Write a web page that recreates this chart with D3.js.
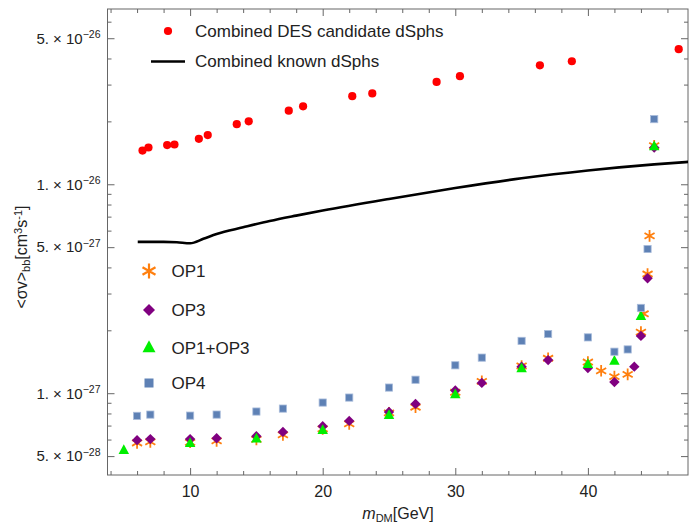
<!DOCTYPE html>
<html>
<head>
<meta charset="utf-8">
<script src="https://cdn.jsdelivr.net/npm/d3@7"></script>
<style>
  html, body { margin: 0; padding: 0; background: #fff; }
  svg { display: block; font-family: "Liberation Sans", Arial, sans-serif; }
</style>
</head>
<body>
<svg id="chart" width="690" height="523"></svg>
<script>
// Dark-matter annihilation cross-section limits vs. mass
const desMass  = [6.41, 6.86, 8.27, 8.82, 10.66, 11.33, 13.52, 14.42, 17.44, 18.52, 22.23, 23.74, 28.59, 30.35, 36.38, 38.79, 46.85];
const desSigma = [1.45e-26, 1.50e-26, 1.54e-26, 1.55e-26, 1.65e-26, 1.72e-26, 1.94e-26, 2.00e-26, 2.25e-26, 2.36e-26, 2.64e-26, 2.72e-26, 3.09e-26, 3.29e-26, 3.71e-26, 3.88e-26, 4.43e-26];

const knownMass  = [6.05, 7, 8, 9, 10, 11, 12, 14, 16, 18, 20, 25, 30, 35, 40, 45, 47.6];
const knownSigma = [5.30e-27, 5.30e-27, 5.30e-27, 5.28e-27, 5.22e-27, 5.48e-27, 5.78e-27, 6.22e-27, 6.67e-27, 7.08e-27, 7.49e-27, 8.51e-27, 9.59e-27, 1.068e-26, 1.164e-26, 1.245e-26, 1.28e-26];

const op1Mass  = [6, 7, 10, 12, 15, 17, 20, 22, 25, 27, 30, 32, 35, 37, 40, 41, 42, 43, 44, 44.2, 44.5, 44.65, 45];
const op1Sigma = [5.78e-28, 5.85e-28, 5.82e-28, 5.91e-28, 6.01e-28, 6.32e-28, 6.75e-28, 7.13e-28, 8.05e-28, 8.57e-28, 1.01e-27, 1.14e-27, 1.35e-27, 1.47e-27, 1.41e-27, 1.28e-27, 1.20e-27, 1.23e-27, 1.96e-27, 2.40e-27, 3.72e-27, 5.66e-27, 1.53e-26];

const op3Mass  = [6, 7, 10, 12, 15, 17, 20, 22, 25, 27, 30, 32, 35, 37, 40, 42, 43.5, 44, 44.5, 45];
const op3Sigma = [5.96e-28, 6.03e-28, 6.03e-28, 6.09e-28, 6.23e-28, 6.53e-28, 6.95e-28, 7.37e-28, 8.14e-28, 8.89e-28, 1.03e-27, 1.12e-27, 1.34e-27, 1.44e-27, 1.32e-27, 1.13e-27, 1.34e-27, 1.88e-27, 3.55e-27, 1.50e-26];

const op13Mass  = [5, 10, 15, 20, 25, 30, 35, 40, 42, 44, 45];
const op13Sigma = [5.31e-28, 5.74e-28, 6.03e-28, 6.63e-28, 7.81e-28, 9.82e-28, 1.31e-27, 1.37e-27, 1.42e-27, 2.33e-27, 1.51e-26];

const op4Mass  = [6, 7, 10, 12, 15, 17, 20, 22, 25, 27, 30, 32, 35, 37, 40, 42, 43, 44, 44.5, 45];
const op4Sigma = [7.79e-28, 7.90e-28, 7.81e-28, 7.90e-28, 8.17e-28, 8.44e-28, 9.02e-28, 9.53e-28, 1.064e-27, 1.16e-27, 1.36e-27, 1.48e-27, 1.78e-27, 1.92e-27, 1.85e-27, 1.58e-27, 1.62e-27, 2.56e-27, 4.90e-27, 2.05e-26];

const xMajorTicks = [10, 20, 30, 40];
const xMinorTicks = [4, 6, 8, 12, 14, 16, 18, 22, 24, 26, 28, 32, 34, 36, 38, 42, 44, 46];
const yMajorTicks = [5e-28, 1e-27, 5e-27, 1e-26, 5e-26];
const yMajorMant  = ["5.", "1.", "5.", "1.", "5."];
const yMajorExp   = ["−28", "−27", "−27", "−26", "−26"];
const yMinorTicks = [6e-28, 7e-28, 8e-28, 9e-28, 2e-27, 3e-27, 4e-27, 6e-27, 7e-27, 8e-27, 9e-27, 2e-26, 3e-26, 4e-26, 6e-26];

const legendTop = ["Combined DES candidate dSphs", "Combined known dSphs"];
const legendOps = ["OP1", "OP3", "OP1+OP3", "OP4"];

const W = 690, H = 523;
const plot = { left: 107.5, right: 688, top: 9, bottom: 475 };

const svg = d3.select("#chart");

const x = d3.scaleLinear().domain([3.77, 47.55]).range([plot.left, plot.right]);
const y = d3.scaleLog().domain([4.06e-28, 6.9e-26]).range([plot.bottom, plot.top]);

const frameColor = "#666";
const textColor = "#222";

// clip for data
svg.append("defs").append("clipPath").attr("id", "clip")
  .append("rect")
  .attr("x", plot.left).attr("y", plot.top)
  .attr("width", plot.right - plot.left).attr("height", plot.bottom - plot.top);

// ---- axes (ticks point inward, mirrored on all four sides) ----
function styleAxis(g) {
  g.selectAll(".domain").remove();
  g.selectAll(".tick line").attr("stroke", frameColor);
  g.selectAll("text").attr("fill", textColor);
}

svg.append("g").attr("transform", `translate(0,${plot.bottom})`)
  .call(d3.axisBottom(x).tickValues(xMajorTicks).tickSize(-7).tickPadding(11).tickFormat(d3.format("d")))
  .call(styleAxis)
  .call(g => g.selectAll("text").attr("font-size", 16));
svg.append("g").attr("transform", `translate(0,${plot.bottom})`)
  .call(d3.axisBottom(x).tickValues(xMinorTicks).tickSize(-4).tickFormat(""))
  .call(styleAxis);
svg.append("g").attr("transform", `translate(0,${plot.top})`)
  .call(d3.axisTop(x).tickValues(xMajorTicks).tickSize(-7).tickFormat(""))
  .call(styleAxis);
svg.append("g").attr("transform", `translate(0,${plot.top})`)
  .call(d3.axisTop(x).tickValues(xMinorTicks).tickSize(-4).tickFormat(""))
  .call(styleAxis);

const yLeft = svg.append("g").attr("transform", `translate(${plot.left},0)`)
  .call(d3.axisLeft(y).tickValues(yMajorTicks).tickSize(-7).tickPadding(7).tickFormat(() => ""))
  .call(styleAxis);
yLeft.selectAll(".tick text").each(function(d, i) {
  const t = d3.select(this).attr("font-size", 15);
  t.append("tspan").text(yMajorMant[i] + " × 10");
  t.append("tspan").attr("font-size", 10.5).attr("dy", "-0.55em").text(yMajorExp[i]);
});
svg.append("g").attr("transform", `translate(${plot.left},0)`)
  .call(d3.axisLeft(y).tickValues(yMinorTicks).tickSize(-4).tickFormat(""))
  .call(styleAxis);
svg.append("g").attr("transform", `translate(${plot.right},0)`)
  .call(d3.axisRight(y).tickValues(yMajorTicks).tickSize(-7).tickFormat(""))
  .call(styleAxis);
svg.append("g").attr("transform", `translate(${plot.right},0)`)
  .call(d3.axisRight(y).tickValues(yMinorTicks).tickSize(-4).tickFormat(""))
  .call(styleAxis);

// frame
svg.append("rect")
  .attr("x", plot.left).attr("y", plot.top)
  .attr("width", plot.right - plot.left).attr("height", plot.bottom - plot.top)
  .attr("fill", "none").attr("stroke", frameColor).attr("stroke-width", 1);

// ---- axis titles ----
const xt = svg.append("text").attr("x", 398).attr("y", 519)
  .attr("text-anchor", "middle").attr("fill", textColor).attr("font-size", 16);
xt.append("tspan").attr("font-style", "italic").text("m");
xt.append("tspan").attr("font-size", 11).attr("dy", "0.25em").text("DM");
xt.append("tspan").attr("dy", "-0.17em").text("[GeV]");

const yt = svg.append("text")
  .attr("transform", "translate(27,257) rotate(-90)")
  .attr("text-anchor", "middle").attr("fill", textColor).attr("font-size", 16);
yt.append("tspan").text("<σv>");
yt.append("tspan").attr("font-size", 11).attr("dy", "0.3em").text("bb");
yt.append("tspan").attr("dy", "-0.2em").text("[cm");
yt.append("tspan").attr("font-size", 11).attr("dy", "-0.5em").text("3");
yt.append("tspan").attr("dy", "0.35em").text("s");
yt.append("tspan").attr("font-size", 11).attr("dy", "-0.5em").text("-1");
yt.append("tspan").attr("dy", "0.35em").text("]");

// ---- marker shapes ----
function starPath(r) {
  const a = [90, 30, -30].map(d => d * Math.PI / 180);
  return a.map(t => `M${(-r * Math.cos(t)).toFixed(2)},${(-r * Math.sin(t)).toFixed(2)}L${(r * Math.cos(t)).toFixed(2)},${(r * Math.sin(t)).toFixed(2)}`).join("");
}
const diamondPath = r => `M0,${-r}L${r},0L0,${r}L${-r},0Z`;
const trianglePath = w => `M0,${-w * 0.6}L${w / 2},${w * 0.33}L${-w / 2},${w * 0.33}Z`;

const data = g => (mass, sigma) => mass.map((m, i) => ({ m, s: sigma[i] }));
const pts = (mass, sigma) => mass.map((m, i) => ({ m, s: sigma[i] }));

const plotArea = svg.append("g").attr("clip-path", "url(#clip)");

// known dSphs limit curve
const line = d3.line().x(d => x(d.m)).y(d => y(d.s)).curve(d3.curveMonotoneX);
plotArea.append("path").datum(pts(knownMass, knownSigma))
  .attr("d", line).attr("fill", "none").attr("stroke", "#000").attr("stroke-width", 2.6);

// DES candidates
plotArea.append("g").selectAll("circle").data(pts(desMass, desSigma)).join("circle")
  .attr("cx", d => x(d.m)).attr("cy", d => y(d.s)).attr("r", 4.1).attr("fill", "#ff0000");

// OP1 stars
plotArea.append("g").selectAll("path").data(pts(op1Mass, op1Sigma)).join("path")
  .attr("transform", d => `translate(${x(d.m)},${y(d.s)})`)
  .attr("d", starPath(5.8)).attr("stroke", "#ff7f0e").attr("stroke-width", 1.8).attr("fill", "none");

// OP3 diamonds
plotArea.append("g").selectAll("path").data(pts(op3Mass, op3Sigma)).join("path")
  .attr("transform", d => `translate(${x(d.m)},${y(d.s)})`)
  .attr("d", diamondPath(5.2)).attr("fill", "#800080");

// OP1+OP3 triangles
plotArea.append("g").selectAll("path").data(pts(op13Mass, op13Sigma)).join("path")
  .attr("transform", d => `translate(${x(d.m)},${y(d.s)})`)
  .attr("d", trianglePath(10.5)).attr("fill", "#00ee00");

// OP4 squares
plotArea.append("g").selectAll("rect").data(pts(op4Mass, op4Sigma)).join("rect")
  .attr("x", d => x(d.m) - 3.6).attr("y", d => y(d.s) - 3.6)
  .attr("width", 7.2).attr("height", 7.2)
  .attr("fill", "#5e81b5").attr("stroke", "#a9bcdb").attr("stroke-width", 0.8);

// ---- legends ----
const lg = svg.append("g").attr("font-size", 17).attr("fill", textColor);
lg.append("circle").attr("cx", 168).attr("cy", 31).attr("r", 4.1).attr("fill", "#ff0000");
lg.append("text").attr("x", 195).attr("y", 31).attr("dy", "0.35em").text(legendTop[0]);
lg.append("line").attr("x1", 151).attr("x2", 185).attr("y1", 61.5).attr("y2", 61.5)
  .attr("stroke", "#000").attr("stroke-width", 2.6);
lg.append("text").attr("x", 195).attr("y", 61.5).attr("dy", "0.35em").text(legendTop[1]);

const opY = [271, 310, 348, 383];
lg.append("path").attr("transform", `translate(149,${opY[0]})`)
  .attr("d", starPath(7.5)).attr("stroke", "#ff7f0e").attr("stroke-width", 2.2).attr("fill", "none");
lg.append("path").attr("transform", `translate(149,${opY[1]})`)
  .attr("d", diamondPath(6)).attr("fill", "#800080");
lg.append("path").attr("transform", `translate(149,${opY[2]})`)
  .attr("d", trianglePath(13)).attr("fill", "#00ee00");
lg.append("rect").attr("x", 149 - 4.5).attr("y", opY[3] - 4.5).attr("width", 9).attr("height", 9)
  .attr("fill", "#5e81b5");
legendOps.forEach((t, i) => {
  lg.append("text").attr("x", 171.5).attr("y", opY[i]).attr("dy", "0.35em").text(t);
});
</script>
</body>
</html>
